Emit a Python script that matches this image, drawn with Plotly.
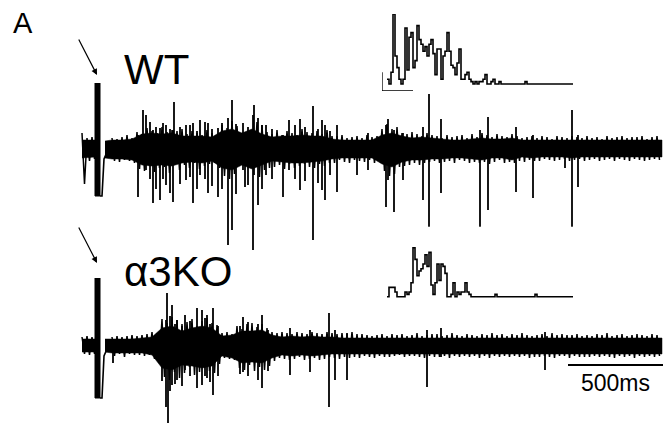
import plotly.graph_objects as go

# ---------------- data (time in ms relative to stimulus, amplitude in arbitrary units) ----------
SAMPLE_MS = 12.5        # sampling interval of the traced recordings
PRE_START_MS = -75      # first pre-stimulus sample
POST_START_MS = 75      # first post-stimulus sample

# pre-stimulus samples
wt_pre = [16, -35, 11, -12, 12, -10]
ko_pre = [9, -8, 10, -9, 9, -8]

# post-stimulus background activity samples
wt_post = [11, -12, 10, -13, 12, -11, 14, -12, 11, -14,
           17, -20, 15, -22, 21, -17, 18, -23, 16, -19,
           22, -18, 17, -24, 19, -15, 18, -21, 20, -16,
           15, -19, 18, -14, 16, -20, 14, -17, 19, -15,
           16, -14, 13, -19, 24, -27, 21, -30, 28, -25,
           23, -16, 14, -13, 15, -12, 14, -16, 27, -28,
           24, -21, 17, -19, 15, -18, 19, -16, 14, -20,
           18, -15, 16, -19, 14, -17, 20, -15, 17, -18,
           16, -19, 18, -15, 15, -17, 19, -14, 13, -14,
           13, -11, 14, -13, 11, -14, 12, -11, 13, -12,
           11, -13, 14, -11, 12, -14, 13, -11, 20, -22,
           25, -27, 20, -25, 22, -18, 16, -17, 15, -16,
           17, -14, 15, -16, 13, -14, 16, -13, 14, -12,
           13, -14, 11, -13, 14, -12, 12, -14, 13, -11,
           14, -12, 11, -14, 15, -13, 12, -14, 16, -13,
           14, -15, 12, -13, 15, -11, 13, -14, 12, -13,
           15, -14, 13, -12, 11, -13, 12, -11, 13, -12,
           11, -12, 13, -10, 12, -11, 10, -12, 13, -11,
           12, -10, 11, -12, 13, -11, 12, -10, 11, -12,
           13, -11, 11, -10, 12, -12, 10, -11, 13, -10,
           11, -12, 12, -10, 13, -11, 11, -12, 12, -10,
           12, -11, 13, -12, 10, -11, 12, -10, 13, -11]
ko_post = [9, -10, 10, -8, 9, -11, 10, -8, 11, -9,
           10, -9, 11, -10, 12, -9, 14, -13, 13, -15,
           27, -31, 23, -34, 29, -26, 26, -32, 22, -27,
           24, -21, 27, -29, 20, -26, 25, -22, 28, -25,
           23, -27, 21, -18, 13, -12, 14, -13, 12, -14,
           20, -22, 17, -24, 22, -19, 23, -25, 19, -21,
           22, -24, 18, -20, 14, -15, 13, -12, 14, -13,
           13, -14, 12, -13, 14, -11, 13, -14, 12, -13,
           14, -12, 13, -14, 12, -13, 14, -11, 13, -12,
           12, -13, 13, -11, 12, -12, 14, -11, 12, -12,
           12, -10, 11, -11, 10, -12, 11, -10, 12, -11,
           10, -11, 12, -10, 11, -9, 12, -11, 10, -10,
           11, -10, 13, -11, 10, -12, 11, -10, 12, -11,
           12, -11, 10, -10, 11, -12, 13, -10, 11, -11,
           10, -10, 12, -11, 11, -10, 10, -12, 12, -10,
           11, -12, 13, -10, 11, -11, 12, -10, 10, -11,
           12, -10, 11, -11, 13, -10, 11, -12, 10, -11,
           11, -11, 12, -10, 10, -11, 13, -12, 11, -10,
           12, -10, 11, -12, 11, -10, 12, -11, 10, -11,
           11, -11, 10, -10, 12, -11, 11, -10, 13, -11,
           10, -12, 11, -10, 12, -11, 10, -10, 11, -12,
           12, -10, 11, -11, 10, -10, 12, -11, 11, -10]

# single-unit spikes: time, peak, trough
wt_spike_t = [205, 230, 245, 265, 280, 295, 315, 330, 345, 365, 380, 385, 415, 445, 465, 480, 500,
              515, 540, 555, 575, 605, 625, 655, 675, 695, 730, 740, 755, 780, 785, 805, 825, 845,
              875, 930, 960, 990, 1015, 1040, 1080, 1105, 1125, 1140, 1165, 1200, 1300, 1355, 1445,
              1455, 1485, 1530, 1630, 1660, 1720, 1915, 1955, 2095, 2180, 2340, 2375, 2405]
wt_spike_top = [14, 39, 34, 27, 19, 22, 21, 26, 24, 20, 19, 47, 22, 24, 24, 26, 18, 29, 27, 26,
                20, 21, 26, 31, 49, 25, 26, 11, 22, 34, 44, 31, 24, 24, 20, 14, 29, 24, 30, 22, 43,
                20, 29, 24, 18, 24, 9, 16, 24, 30, 19, 16, 22, 55, 30, 19, 32, 22, 14, 9, 39, 14]
wt_spike_bot = [-48, -16, -21, -30, -54, -40, -51, -30, -36, -44, -53, -11, -35, -31, -28, -54,
                -40, -26, -30, -44, -37, -48, -40, -96, -81, -45, -21, -38, -36, -101, -26, -56,
                -40, -26, -30, -48, -21, -30, -41, -32, -91, -34, -41, -51, -26, -43, -26, -21,
                -58, -31, -63, -31, -51, -89, -44, -78, -61, -43, -49, -19, -93, -38]

ko_spike_t = [80, 325, 345, 350, 355, 365, 375, 390, 400, 425, 440, 465, 500, 525, 540, 550, 565,
              580, 605, 715, 730, 755, 805, 825, 855, 965, 1065, 1160, 1190, 1250, 1650, 1720,
              2240]
ko_spike_top = [0, 20, 26, 53, 16, 30, 41, 22, 26, 20, 31, 25, 38, 36, 28, 31, 22, 38, 20, 20, 29,
                24, 22, 31, 16, 18, 16, 33, 16, 13, 16, 18, 14]
ko_spike_bot = [-17, -35, -61, -14, -77, -45, -39, -38, -34, -40, -24, -30, -42, -39, -30, -32,
                -36, -49, -30, -28, -26, -30, -34, -42, -25, -29, -26, -61, -34, -34, -41, -11,
                -24]

# dense core of the noise band (coarse envelope); pre- and post-stimulus parts
env_pre_t = [-75, -10]
wt_core_pre_up = [9, 9]
wt_core_pre_lo = [-9, -8]
ko_core_pre_up = [7, 7]
ko_core_pre_lo = [-6, -6]

env_t = [40, 75, 125, 175, 225, 275, 325, 375, 425, 475, 525, 575, 625, 675, 725, 775,
         825, 875, 925, 975, 1025, 1075, 1125, 1175, 1225, 1275, 1325, 1375, 1425, 1475, 1525, 1575,
         1625, 1675, 1725, 1775, 1825, 1875, 1925, 1975, 2025, 2075, 2125, 2175, 2225, 2275, 2325,
         2375, 2425, 2475, 2525, 2575, 2625, 2675, 2725, 2775, 2825]
wt_core_up = [8, 9, 9, 10, 15, 16, 15, 16, 13, 13, 13, 12, 18, 20, 16, 20, 15, 12, 13, 13,
              14, 13, 13, 10, 9, 9, 9, 9, 14, 16, 13, 11, 12, 11, 10, 9, 9, 10, 11, 10, 10, 11, 9,
              9, 9, 9, 9, 9, 9, 9, 9, 9, 9, 9, 9, 9, 9]
wt_core_lo = [-9, -10, -10, -11, -16, -17, -16, -17, -14, -13, -14, -12, -19, -21, -16,
              -20, -16, -12, -13, -14, -14, -13, -12, -10, -9, -9, -9, -9, -15, -18, -13, -11, -11,
              -10, -10, -9, -9, -10, -11, -9, -9, -11, -8, -9, -8, -8, -8, -9, -8, -8, -8, -8, -8,
              -8, -8, -8, -8]
ko_core_up = [7, 7, 7, 7, 8, 9, 18, 20, 15, 18, 20, 18, 10, 11, 15, 15, 16, 11, 9, 10, 9,
              10, 9, 9, 8, 8, 8, 8, 8, 8, 8, 8, 8, 8, 8, 8, 8, 8, 8, 8, 8, 8, 8, 8, 8, 8, 8, 8, 8,
              8, 8, 8, 8, 8, 8, 8, 8]
ko_core_lo = [-6, -7, -7, -7, -7, -9, -22, -24, -19, -20, -22, -20, -10, -12, -17, -16,
              -17, -12, -9, -10, -9, -10, -9, -8, -8, -8, -8, -8, -8, -8, -8, -8, -8, -8, -8, -8,
              -8, -8, -8, -8, -8, -8, -8, -8, -8, -8, -8, -8, -8, -8, -8, -8, -8, -8, -8, -8, -8]

# stimulus artifact (time window and extent) and recovery
artifact_t = [-10, 15]
wt_artifact_v = [66, -47]
ko_artifact_v = [68, -52]
recovery_t = [15, 25, 35, 50, 75]
wt_recovery_v = [-47, -47, -10, -3, 0]
ko_recovery_v = [-52, -52, -10, -3, 0]

# PSTH insets (spikes per bin)
wt_hist = [2, 0, 5, 30, 12, 7, 2, 0, 2, 24, 6, 20, 22, 7, 10, 25, 19, 17, 14, 16, 12, 17, 19, 13, 4,
           15, 15, 2, 12, 14, 22, 14, 8, 7, 4, 9, 15, 2, 2, 4, 5, 2, 1, 0, 1, 0, 1, 1, 2, 4, 0, 0,
           1, 2, 0, 0, 1, 0, 0, 0, 0, 0, 0, 0, 0, 0, 0, 0, 0, 1, 0, 0, 0, 0, 0, 0, 0, 0, 0, 0, 0,
           0, 0, 0, 0, 0, 0, 0, 0, 0, 0, 0, 0]
ko_hist = [0, 4, 4, 4, 2, 0, 0, 0, 0, 2, 1, 2, 6, 21, 16, 9, 11, 12, 14, 18, 13, 19, 5, 1, 6, 14,
           7, 14, 13, 10, 0, 0, 1, 6, 0, 2, 1, 2, 2, 6, 2, 1, 0, 0, 0, 0, 0, 0, 0, 0, 0, 0, 0, 0,
           1, 0, 0, 0, 0, 0, 0, 0, 0, 0, 0, 0, 0, 0, 0, 0, 0, 0, 0, 0, 1, 0, 0, 0, 0, 0, 0, 0, 0,
           0, 0, 0, 0, 0, 0, 0, 0, 0, 0]
hist_scale_counts = 8
hist_scale_bins = 15.5

time_scale_ms = 500
time_scale_start = 2355
time_scale_level = -19

labels = {"panel": "A", "wt": "WT", "ko": "α3KO", "scale": "500ms"}

FONT = "Liberation Sans, Arial, sans-serif"
BLACK = "black"

# ---------------- figure ----------------
fig = go.Figure()


def times(start, n):
    return [start + SAMPLE_MS * i for i in range(n)]


def add_band(t, up, lo, yax):
    fig.add_trace(go.Scatter(x=t + t[::-1], y=up + lo[::-1], mode="lines", fill="toself",
                             fillcolor=BLACK, line=dict(color=BLACK, width=0.5),
                             xaxis="x", yaxis=yax, hoverinfo="skip", showlegend=False))


def add_trace(pre, post, yax):
    for start, vals in ((PRE_START_MS, pre), (POST_START_MS, post)):
        fig.add_trace(go.Scatter(x=times(start, len(vals)), y=vals, mode="lines",
                                 line=dict(color=BLACK, width=1.5),
                                 xaxis="x", yaxis=yax, hoverinfo="skip", showlegend=False))


def add_spikes(t, top, bot, yax):
    xs, ys = [], []
    for a, b, c in zip(t, top, bot):
        xs += [a, a, None]
        ys += [b, c, None]
    fig.add_trace(go.Scatter(x=xs, y=ys, mode="lines", line=dict(color=BLACK, width=1.8),
                             xaxis="x", yaxis=yax, hoverinfo="skip", showlegend=False))


def add_artifact(v, rec_v, yax):
    fig.add_trace(go.Scatter(x=[artifact_t[0], artifact_t[0], artifact_t[1], artifact_t[1]],
                             y=[v[0], v[1], v[1], v[0]], mode="lines", fill="toself",
                             fillcolor=BLACK, line=dict(color=BLACK, width=1),
                             xaxis="x", yaxis=yax, hoverinfo="skip", showlegend=False))
    fig.add_trace(go.Scatter(x=recovery_t, y=rec_v, mode="lines", line=dict(color=BLACK, width=1.6),
                             xaxis="x", yaxis=yax, hoverinfo="skip", showlegend=False))


def add_hist(counts, xa, ya, scale=False):
    bins = list(range(len(counts) + 1))
    fig.add_trace(go.Scatter(x=bins, y=counts + [counts[-1]], mode="lines",
                             line=dict(color=BLACK, width=1.6, shape="hv"),
                             xaxis=xa, yaxis=ya, hoverinfo="skip", showlegend=False))
    if scale:
        x0 = -2.5
        y0 = -3
        fig.add_trace(go.Scatter(x=[x0, x0, x0 + hist_scale_bins],
                                 y=[y0 + hist_scale_counts, y0, y0], mode="lines",
                                 line=dict(color=BLACK, width=1.3),
                                 xaxis=xa, yaxis=ya, hoverinfo="skip", showlegend=False))


add_band(env_pre_t, wt_core_pre_up, wt_core_pre_lo, "y")
add_band(env_t, wt_core_up, wt_core_lo, "y")
add_trace(wt_pre, wt_post, "y")
add_spikes(wt_spike_t, wt_spike_top, wt_spike_bot, "y")
add_artifact(wt_artifact_v, wt_recovery_v, "y")

add_band(env_pre_t, ko_core_pre_up, ko_core_pre_lo, "y2")
add_band(env_t, ko_core_up, ko_core_lo, "y2")
add_trace(ko_pre, ko_post, "y2")
add_spikes(ko_spike_t, ko_spike_top, ko_spike_bot, "y2")
add_artifact(ko_artifact_v, ko_recovery_v, "y2")

add_hist(wt_hist, "x2", "y3", scale=True)
add_hist(ko_hist, "x3", "y4")

# time scale bar
fig.add_trace(go.Scatter(x=[time_scale_start, time_scale_start + time_scale_ms],
                         y=[time_scale_level, time_scale_level], mode="lines",
                         line=dict(color=BLACK, width=2), xaxis="x", yaxis="y2",
                         hoverinfo="skip", showlegend=False))

W, H = 663, 424
hidden = dict(visible=False, showgrid=False, zeroline=False, fixedrange=True)
ins_dom = [382 / W, 573 / W]

fig.update_layout(
    width=W, height=H, margin=dict(l=0, r=0, t=0, b=0),
    paper_bgcolor="white", plot_bgcolor="white",
    xaxis=dict(domain=[0, 1], range=[-485, 2830], anchor="y", **hidden),
    yaxis=dict(domain=[0, 1], range=[-275, 149], anchor="x", **hidden),
    yaxis2=dict(range=[-78, 346], overlaying="y", anchor="x", **hidden),
    xaxis2=dict(domain=ins_dom, range=[-2.5, 93], anchor="y3", **hidden),
    yaxis3=dict(domain=[0.7854, 0.9670], range=[-3, 30], anchor="x2", **hidden),
    xaxis3=dict(domain=ins_dom, range=[-2.5, 93], anchor="y4", **hidden),
    yaxis4=dict(domain=[0.2837, 0.4653], range=[-3, 30], anchor="x3", **hidden),
    showlegend=False,
)

ann = []
ann.append(dict(text=labels["panel"], x=11 / W, y=1 - 23 / H, xref="paper", yref="paper",
                xanchor="left", yanchor="middle", showarrow=False,
                font=dict(family=FONT, size=29, color=BLACK)))
ann.append(dict(text=labels["wt"], x=122 / W, y=1 - 69 / H, xref="paper", yref="paper",
                xanchor="left", yanchor="middle", showarrow=False,
                font=dict(family=FONT, size=42, color=BLACK)))
ann.append(dict(text=labels["ko"], x=122 / W, y=1 - 271 / H, xref="paper", yref="paper",
                xanchor="left", yanchor="middle", showarrow=False,
                font=dict(family=FONT, size=42, color=BLACK)))
ann.append(dict(text=labels["scale"], x=615 / W, y=1 - 383 / H, xref="paper", yref="paper",
                xanchor="center", yanchor="middle", showarrow=False,
                font=dict(family=FONT, size=23, color=BLACK)))
for ytip in (75, 263):
    ann.append(dict(text="", x=97 / W, y=1 - ytip / H, xref="paper", yref="paper",
                    ax=-19, ay=-37, showarrow=True, arrowhead=2, arrowsize=1,
                    arrowwidth=1.2, arrowcolor=BLACK))
fig.update_layout(annotations=ann)

fig.write_html("out.html", config={"displayModeBar": False},
               post_script="document.body.style.margin='0';")
